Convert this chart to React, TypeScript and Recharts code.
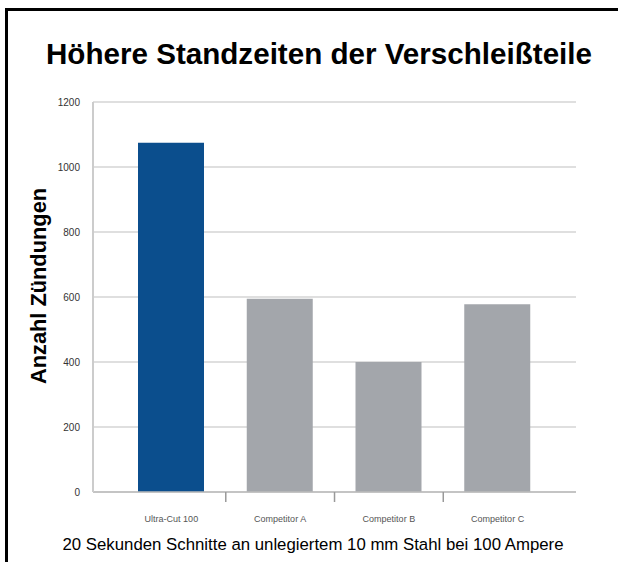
import { BarChart, Bar, XAxis, YAxis, CartesianGrid, Cell } from 'recharts';

const categories = ['Ultra-Cut 100', 'Competitor A', 'Competitor B', 'Competitor C'];
const zuendungen = [1075, 595, 400, 578];
const barColors = ['#0b4e8d', '#a3a6ab', '#a3a6ab', '#a3a6ab'];
const yTicks = [0, 200, 400, 600, 800, 1000, 1200];

const data = categories.map((name, i) => ({ name, value: zuendungen[i] }));

const FONT = '"Liberation Sans", Arial, sans-serif';

function CategoryTick(props: any) {
  const { x, y, payload, index } = props;
  const half = 54.4;
  return (
    <g>
      <text x={x} y={y + 22} textAnchor="middle" fontSize={9} fill="#555" fontFamily={FONT}>
        {payload.value}
      </text>
      {index < categories.length - 1 && (
        <line x1={x + half} x2={x + half} y1={y - 8} y2={y + 2} stroke="#999" strokeWidth={1.5} />
      )}
    </g>
  );
}

export default function App() {
  return (
    <div style={{ position: 'absolute', left: 0, top: 0, width: 618, height: 562, background: '#fff', overflow: 'hidden', fontFamily: FONT }}>
      <div style={{ position: 'absolute', left: 5, top: 8, width: 640, height: 600, border: '3px solid #000', boxSizing: 'border-box' }} />
      <div style={{ position: 'absolute', left: 0, top: 37, width: 638, textAlign: 'center', fontSize: 29.6, fontWeight: 'bold', color: '#000' }}>
        Höhere Standzeiten der Verschleißteile
      </div>
      <div style={{ position: 'absolute', left: 39, top: 286, width: 0, height: 0 }}>
        <div style={{ position: 'absolute', left: -130, top: -12, width: 260, height: 24, lineHeight: '24px', textAlign: 'center', transform: 'rotate(-90deg)', fontSize: 21.8, fontWeight: 'bold', color: '#000', whiteSpace: 'nowrap' }}>
          Anzahl Zündungen
        </div>
      </div>
      <div style={{ position: 'absolute', left: 0, top: 535, width: 626, textAlign: 'center', fontSize: 16.8, color: '#000' }}>
        20 Sekunden Schnitte an unlegiertem 10 mm Stahl bei 100 Ampere
      </div>
      <div style={{ position: 'absolute', left: 0, top: 0 }}>
        <BarChart width={618} height={562} data={data} margin={{ top: 102, right: 42, bottom: 40, left: 33 }}>
          <CartesianGrid vertical={false} stroke="#d4d4d4" strokeWidth={1.5} />
          <XAxis
            dataKey="name"
            height={30}
            padding={{ left: 24, right: 24 }}
            axisLine={{ stroke: '#bbb', strokeWidth: 1.5 }}
            tickLine={false}
            tick={<CategoryTick />}
            interval={0}
          />
          <YAxis
            width={60}
            domain={[0, 1200]}
            ticks={yTicks}
            axisLine={{ stroke: '#ccc', strokeWidth: 2 }}
            tickLine={false}
            tickMargin={7}
            tick={{ fontSize: 10, fill: '#333', fontFamily: FONT }}
          />
          <Bar dataKey="value" barSize={66} isAnimationActive={false}>
            {data.map((d, i) => (
              <Cell key={d.name} fill={barColors[i]} />
            ))}
          </Bar>
        </BarChart>
      </div>
    </div>
  );
}
